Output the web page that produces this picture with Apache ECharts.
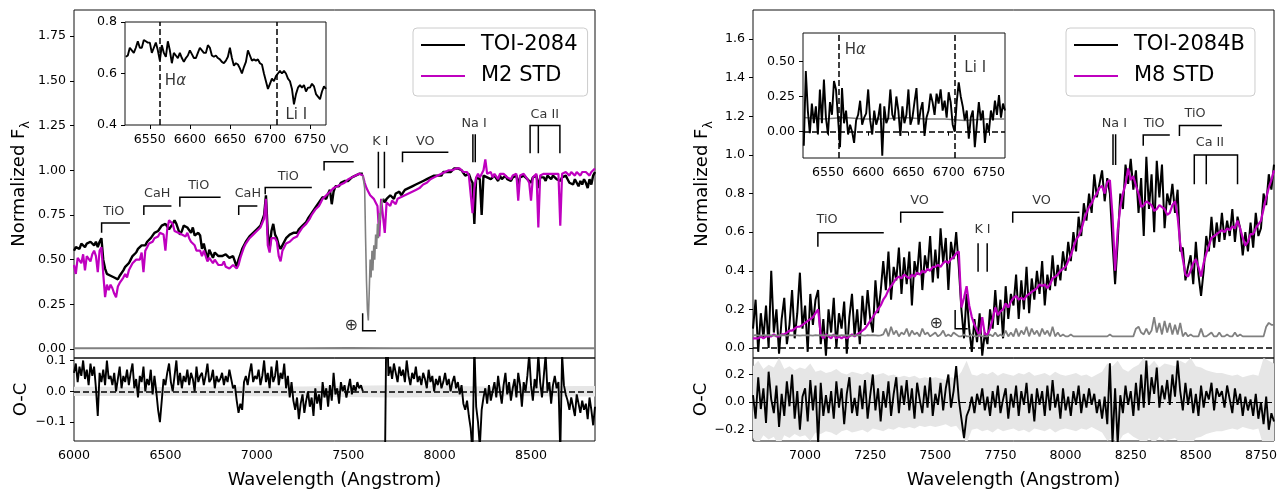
<!DOCTYPE html>
<html><head><meta charset="utf-8">
<script src="https://cdn.jsdelivr.net/npm/echarts@6/dist/echarts.min.js"></script>
<style>html,body{margin:0;padding:0;background:#fff}#c{width:1283px;height:490px}</style>
</head><body><div id="c"></div>
<script>
// ---------------- LEFT PANEL DATA (TOI-2084 vs M2 STD) ----------------
const leftWaveStart = 6000, leftWaveStep = 10;
const leftObs = [
0.55,0.57,0.58,0.56,0.59,0.58,0.57,0.59,0.58,0.60,
0.59,0.58,0.60,0.57,0.60,0.62,0.50,0.45,0.42,0.41,
0.41,0.42,0.40,0.41,0.39,0.41,0.42,0.44,0.46,0.45,
0.48,0.50,0.52,0.51,0.54,0.56,0.55,0.58,0.59,0.58,
0.60,0.61,0.62,0.63,0.65,0.64,0.66,0.67,0.69,0.68,
0.70,0.71,0.67,0.68,0.70,0.72,0.70,0.71,0.64,0.66,
0.69,0.68,0.68,0.665,0.65,0.68,0.635,0.645,0.65,0.635,
0.56,0.59,0.60,0.50,0.555,0.545,0.51,0.54,0.53,0.52,
0.53,0.52,0.51,0.53,0.52,0.51,0.50,0.52,0.49,0.46,
0.50,0.53,0.56,0.58,0.60,0.61,0.63,0.64,0.65,0.66,
0.67,0.68,0.69,0.70,0.75,0.86,0.65,0.56,0.66,0.70,
0.64,0.62,0.58,0.56,0.58,0.60,0.62,0.61,0.64,0.63,
0.65,0.66,0.65,0.67,0.68,0.69,0.70,0.71,0.73,0.74,
0.76,0.77,0.79,0.80,0.82,0.83,0.85,0.86,0.84,0.87,
0.89,0.81,0.88,0.91,0.92,0.91,0.93,0.92,0.94,0.93,
0.94,0.95,0.96,0.95,0.97,0.96,0.98,0.97,0.98,null,
null,null,null,null,null,null,null,null,null,0.84,
0.82,0.84,0.83,0.86,0.85,0.84,0.87,0.86,0.88,0.86,
0.87,0.89,0.88,0.90,0.89,0.91,0.90,0.92,0.91,0.93,
0.92,0.94,0.93,0.95,0.94,0.96,0.95,0.97,0.96,0.97,
0.98,0.97,0.99,0.98,0.99,1.00,0.99,1.00,1.01,1.00,
1.01,1.02,1.00,0.99,0.97,0.96,0.98,0.95,0.93,0.70,
0.96,0.97,0.95,0.75,0.97,0.98,0.96,0.97,0.95,0.96,
0.97,0.96,0.94,0.97,0.95,0.96,0.97,0.95,0.96,0.94,
0.96,0.95,0.97,0.92,0.96,0.95,0.97,0.96,0.95,0.94,
0.93,0.96,0.95,0.97,0.90,0.96,0.95,0.96,0.94,0.97,
0.96,0.95,0.97,0.96,0.95,0.96,0.94,0.96,0.95,0.97,
0.95,0.93,0.94,0.92,0.95,0.93,0.91,0.94,0.92,0.95,
0.93,0.90,0.95,0.92,0.97,0.99];
const leftStd = [
0.47,0.42,0.51,0.52,0.48,0.53,0.44,0.52,0.53,0.49,
0.53,0.55,0.52,0.43,0.55,0.57,0.42,0.29,0.36,0.33,
0.36,0.34,0.31,0.29,0.35,0.37,0.36,0.40,0.42,0.40,
0.44,0.46,0.48,0.47,0.50,0.51,0.50,0.54,0.43,0.55,
0.57,0.59,0.58,0.60,0.62,0.61,0.63,0.65,0.66,0.64,
0.55,0.67,0.72,0.72,0.70,0.66,0.67,0.65,0.66,0.64,
0.64,0.63,0.65,0.62,0.60,0.61,0.58,0.55,0.54,0.55,
0.52,0.55,0.54,0.49,0.51,0.50,0.48,0.50,0.49,0.47,
0.48,0.47,0.49,0.46,0.47,0.45,0.46,0.47,0.46,0.45,
0.47,0.51,0.54,0.57,0.59,0.60,0.62,0.63,0.64,0.64,
0.66,0.66,0.68,0.69,0.73,0.84,0.58,0.54,0.62,0.63,
0.62,0.60,0.52,0.49,0.55,0.57,0.59,0.58,0.60,0.60,
0.62,0.63,0.63,0.65,0.66,0.68,0.69,0.70,0.71,0.73,
0.75,0.76,0.78,0.79,0.80,0.82,0.84,0.85,0.86,0.86,
0.88,0.89,0.90,0.90,0.91,0.92,0.92,0.93,0.93,0.94,
0.95,0.95,0.96,0.96,0.97,0.97,0.98,0.98,0.97,0.93,
0.90,0.88,0.86,0.85,0.84,0.82,0.80,0.63,0.84,0.84,
0.65,0.82,0.81,0.80,0.83,0.82,0.81,0.84,0.83,0.85,
0.84,0.86,0.85,0.87,0.87,0.88,0.88,0.89,0.90,0.90,
0.91,0.92,0.93,0.93,0.94,0.95,0.95,0.96,0.96,0.97,
0.97,0.98,0.98,0.99,0.99,1.00,1.00,1.00,1.01,1.01,
1.01,1.01,1.00,0.99,0.98,0.99,0.97,0.98,0.76,0.90,
0.96,0.98,0.96,0.97,1.00,1.06,0.98,0.97,0.99,0.96,
0.98,0.97,0.95,0.98,0.97,0.98,0.99,0.96,0.97,0.95,
0.97,0.96,0.98,0.83,0.97,0.96,0.98,0.97,0.95,0.93,
0.83,0.96,0.97,0.98,0.68,0.97,0.96,0.98,0.97,0.98,
0.97,0.98,0.97,0.98,0.97,0.98,0.69,0.98,0.97,0.99,
0.98,0.97,0.99,0.98,0.97,0.99,0.98,0.97,0.99,0.98,
0.99,0.98,0.97,0.99,1.00,1.01];
const leftResid = [
0.06,0.09,0.03,0.08,0.05,0.10,0.04,0.07,0.02,0.09,
0.05,0.08,0.01,-0.08,0.06,0.03,0.07,0.02,0.10,0.04,
0.05,0.02,0.06,0.00,0.04,0.08,0.01,0.05,0.03,0.07,
0.02,0.06,0.09,0.01,0.04,-0.02,0.05,0.03,0.08,0.00,
0.04,0.02,0.07,-0.01,0.05,0.00,-0.06,-0.10,-0.03,0.04,
0.02,0.06,0.09,0.03,0.00,0.05,0.10,0.02,0.06,0.01,
0.05,0.03,0.07,0.02,0.06,0.04,0.00,0.08,0.03,0.05,
0.06,0.02,0.05,0.09,0.03,0.04,0.07,0.01,0.05,0.03,
0.04,0.06,0.02,0.05,0.03,0.07,0.04,0.01,0.02,-0.03,
-0.07,-0.04,-0.06,0.03,0.05,0.02,0.06,0.09,0.03,0.05,
0.04,0.07,0.02,0.05,0.10,0.03,0.06,0.01,0.08,0.03,
0.05,0.10,0.02,0.06,0.04,0.09,0.01,0.05,-0.02,0.03,
-0.03,-0.06,-0.02,-0.09,-0.04,-0.01,-0.07,-0.03,0.00,-0.05,
-0.02,-0.08,0.01,-0.04,-0.01,-0.06,0.03,-0.02,0.01,-0.05,
0.02,-0.03,0.06,-0.01,0.01,-0.04,0.03,0.00,0.02,-0.02,
0.01,0.04,-0.01,0.02,0.00,0.03,0.01,0.02,0.00,null,
null,null,null,null,null,null,null,null,null,null,
-0.30,0.30,0.05,0.08,0.04,0.09,0.06,0.03,0.08,0.05,
0.07,0.03,0.10,0.05,0.02,0.06,0.04,0.08,0.03,0.05,
0.02,0.06,0.04,0.01,0.07,0.03,0.05,0.00,0.04,0.02,
0.05,0.01,0.03,0.06,0.02,0.04,0.00,0.03,0.05,0.01,
0.03,-0.01,0.02,-0.04,-0.06,-0.03,-0.08,-0.12,-0.20,0.15,
-0.05,-0.10,-0.18,-0.06,-0.02,0.01,-0.04,0.02,-0.03,0.00,
0.03,-0.02,0.05,0.00,-0.04,0.02,0.06,-0.01,0.03,-0.03,
0.01,0.04,-0.02,0.06,0.02,-0.05,0.03,0.00,0.05,0.12,
0.02,-0.03,0.04,0.01,0.12,0.03,-0.02,0.05,0.12,0.00,
0.03,-0.04,0.02,0.05,0.01,0.03,-0.20,0.12,0.02,-0.01,
-0.03,-0.06,-0.02,-0.05,-0.08,-0.01,-0.04,-0.07,-0.03,-0.06,
-0.04,-0.09,-0.02,-0.06,-0.11,-0.05];
// telluric A-band portion of the observed spectrum (drawn in gray)
const leftTellStart = 7580, leftTellStep = 5;
const leftTell = [0.97,0.96,0.90,0.62,0.38,0.22,0.16,0.32,0.50,0.40,0.55,0.44,0.58,0.50,0.64,0.56,0.70,0.62,0.76,0.72,0.80,0.83,0.84];
// flux uncertainty (gray, near zero) and residual error band
const leftErrWave = [6000,6250,6500,6750,7000,7250,7500,7750,8000,8250,8500,8750,8850];
const leftErr     = [0.005,0.005,0.005,0.005,0.005,0.005,0.006,0.005,0.005,0.005,0.005,0.005,0.005];
const leftBand    = [0.015,0.015,0.014,0.015,0.016,0.016,0.018,0.020,0.018,0.016,0.016,0.017,0.017];
// inset (H-alpha / Li I region)
const leftInsetStart = 6520, leftInsetStep = 2.5;
const leftInset = [
0.665,0.67,0.70,0.69,0.68,0.70,0.725,0.70,0.70,0.73,
0.725,0.72,0.72,0.68,0.70,0.72,0.69,0.65,0.71,0.68,
0.665,0.725,0.69,0.64,0.68,0.67,0.66,0.68,0.66,0.645,
0.66,0.67,0.69,0.675,0.66,0.66,0.68,0.70,0.69,0.68,
0.68,0.71,0.70,0.67,0.665,0.67,0.66,0.655,0.645,0.64,
0.65,0.665,0.70,0.66,0.63,0.64,0.635,0.62,0.60,0.625,
0.645,0.69,0.67,0.65,0.655,0.65,0.655,0.64,0.635,0.60,
0.57,0.54,0.56,0.58,0.57,0.59,0.60,0.61,0.60,0.61,
0.60,0.58,0.57,0.54,0.48,0.52,0.545,0.555,0.545,0.555,
0.53,0.545,0.545,0.56,0.55,0.52,0.51,0.50,0.53,0.55,
0.54];

// ---------------- RIGHT PANEL DATA (TOI-2084B vs M8 STD) ----------------
const rightWaveStart = 6800, rightWaveStep = 10;
const rightObs = [
0.10,0.25,-0.02,0.18,0.05,0.22,0.00,0.40,0.08,0.20,
-0.03,0.15,0.26,0.02,0.12,0.30,0.05,0.18,0.39,0.10,
0.22,-0.02,0.28,0.12,0.25,0.30,0.02,0.15,-0.04,0.20,
0.08,0.26,0.00,0.18,0.10,0.24,-0.03,0.16,0.28,0.06,
0.20,0.02,0.27,0.12,0.30,0.15,0.08,0.35,0.18,0.29,
0.45,0.30,0.50,0.25,0.42,0.35,0.52,0.28,0.47,0.33,
0.50,0.22,0.45,0.38,0.55,0.30,0.48,0.40,0.58,0.34,
0.51,0.36,0.62,0.44,0.57,0.30,0.55,0.46,0.60,0.42,
0.20,0.05,0.28,0.10,-0.02,0.15,0.03,0.18,-0.04,0.08,
0.02,0.20,0.10,0.30,0.12,0.25,0.05,0.32,0.15,0.28,
0.22,0.38,0.15,0.35,0.20,0.42,0.18,0.36,0.25,0.40,
0.28,0.45,0.22,0.38,0.30,0.48,0.32,0.43,0.35,0.50,
0.40,0.55,0.45,0.60,0.50,0.68,0.58,0.75,0.66,0.80,
0.70,0.90,0.78,0.85,0.92,0.76,0.88,0.80,0.55,0.33,
0.55,0.80,0.72,0.95,0.85,0.98,0.82,0.92,0.70,0.88,
0.58,0.99,0.72,0.90,0.60,0.97,0.78,0.95,0.62,0.80,
0.74,0.85,0.70,0.82,0.50,0.52,0.35,0.42,0.48,0.33,
0.55,0.38,0.27,0.40,0.58,0.50,0.68,0.52,0.65,0.55,
0.70,0.56,0.66,0.58,0.72,0.55,0.68,0.62,0.48,0.60,
0.50,0.65,0.52,0.70,0.58,0.62,0.80,0.74,0.90,0.82,
0.95];
const rightStd = [
0.05,0.05,0.05,0.06,0.05,0.06,0.06,0.06,0.07,0.06,
0.06,0.07,0.07,0.08,0.09,0.09,0.10,0.11,0.11,0.12,
0.13,0.14,0.15,0.16,0.18,0.20,0.07,0.05,0.07,0.06,
0.05,0.07,0.05,0.06,0.05,0.06,0.05,0.06,0.07,0.06,
0.07,0.08,0.09,0.10,0.12,0.14,0.16,0.18,0.20,0.22,
0.25,0.27,0.30,0.32,0.34,0.36,0.37,0.36,0.38,0.37,
0.36,0.38,0.37,0.39,0.38,0.40,0.39,0.41,0.40,0.42,
0.42,0.43,0.42,0.44,0.45,0.44,0.46,0.47,0.49,0.50,
0.21,0.26,0.32,0.22,0.16,0.12,0.09,0.06,0.16,0.07,
0.07,0.10,0.15,0.21,0.17,0.19,0.20,0.23,0.21,0.24,
0.26,0.27,0.25,0.26,0.25,0.27,0.28,0.29,0.30,0.31,
0.33,0.32,0.33,0.31,0.33,0.36,0.37,0.38,0.40,0.41,
0.42,0.45,0.48,0.52,0.56,0.58,0.61,0.66,0.70,0.73,
0.75,0.78,0.80,0.83,0.84,0.80,0.86,0.87,0.69,0.40,
0.61,0.73,0.80,0.85,0.93,0.87,0.89,0.84,0.80,0.73,
0.74,0.76,0.75,0.74,0.71,0.72,0.74,0.73,0.72,0.69,
0.70,0.74,0.76,0.68,0.54,0.46,0.38,0.37,0.40,0.44,
0.46,0.42,0.37,0.44,0.49,0.53,0.57,0.58,0.59,0.60,
0.61,0.60,0.62,0.61,0.63,0.62,0.66,0.62,0.57,0.53,
0.55,0.59,0.59,0.62,0.64,0.66,0.72,0.78,0.83,0.87,
0.92];
const rightErr = [
0.065,0.066,0.065,0.064,0.066,0.065,0.066,0.065,0.064,0.065,
0.065,0.066,0.065,0.064,0.066,0.065,0.066,0.065,0.064,0.065,
0.065,0.066,0.065,0.064,0.066,0.065,0.066,0.065,0.064,0.065,
0.065,0.066,0.065,0.064,0.066,0.065,0.066,0.065,0.064,0.065,
0.065,0.066,0.065,0.064,0.066,0.065,0.066,0.065,0.064,0.065,
0.07,0.10,0.06,0.11,0.07,0.09,0.06,0.08,0.07,0.10,
0.06,0.09,0.07,0.08,0.06,0.10,0.07,0.08,0.06,0.07,
0.08,0.06,0.07,0.09,0.06,0.07,0.06,0.08,0.07,0.06,
0.06,0.07,0.06,0.06,0.07,0.06,0.06,0.07,0.06,0.06,
0.06,0.07,0.06,0.08,0.06,0.07,0.06,0.09,0.06,0.08,
0.06,0.10,0.06,0.09,0.07,0.11,0.06,0.10,0.07,0.09,
0.06,0.10,0.07,0.09,0.06,0.11,0.06,0.08,0.06,0.07,
0.06,0.06,0.07,0.06,0.06,0.06,0.06,0.06,0.06,0.06,
0.06,0.06,0.06,0.06,0.06,0.06,0.06,0.07,0.06,0.06,
0.06,0.06,0.06,0.06,0.06,0.06,0.06,0.10,0.11,0.08,
0.07,0.10,0.07,0.09,0.16,0.08,0.13,0.07,0.14,0.08,
0.13,0.07,0.12,0.07,0.13,0.06,0.08,0.06,0.07,0.06,
0.06,0.06,0.10,0.06,0.06,0.07,0.08,0.06,0.06,0.08,
0.06,0.06,0.07,0.06,0.06,0.08,0.06,0.07,0.06,0.06,
0.06,0.06,0.06,0.06,0.06,0.06,0.06,0.11,0.13,0.12,
0.12];
const rightResid = [
0.05,-0.12,0.18,-0.05,0.10,-0.15,0.22,0.02,-0.08,0.12,
-0.18,0.06,-0.10,0.15,-0.03,0.20,-0.12,0.08,-0.20,0.04,
0.10,-0.14,0.16,-0.06,0.12,-0.30,0.14,-0.10,0.05,-0.08,
0.08,-0.12,0.15,-0.04,0.10,-0.16,0.06,0.18,-0.08,0.03,
-0.10,0.12,-0.05,0.16,-0.12,0.05,0.20,-0.06,0.10,-0.14,
0.08,-0.04,0.15,-0.10,0.06,0.18,-0.08,0.12,-0.02,0.16,
-0.06,0.10,-0.12,0.14,0.02,-0.08,0.12,-0.04,0.18,-0.10,
0.06,-0.02,0.14,-0.06,0.10,0.20,-0.04,0.08,0.26,0.02,
-0.12,-0.26,-0.10,-0.05,0.04,-0.08,0.06,-0.02,0.10,-0.06,
0.04,-0.10,0.08,-0.04,0.12,-0.08,0.02,0.10,-0.12,0.06,
-0.04,0.12,-0.10,0.08,-0.02,0.14,-0.08,0.06,-0.14,0.10,
-0.02,0.08,-0.10,0.12,-0.06,0.16,-0.04,0.06,-0.12,0.10,
-0.06,0.04,-0.10,0.08,-0.02,0.12,-0.08,0.06,-0.04,0.10,
-0.02,0.06,-0.08,0.02,-0.12,0.04,-0.16,0.28,-0.30,0.10,
-0.30,0.05,-0.08,0.12,-0.02,0.08,-0.10,0.14,-0.06,0.20,
-0.04,0.30,-0.02,0.18,0.06,0.25,-0.04,0.12,0.02,0.16,
-0.02,0.20,0.04,0.30,0.08,-0.06,0.14,-0.02,0.10,-0.08,
0.06,-0.10,0.12,-0.04,0.08,0.02,0.14,-0.06,0.10,0.04,
0.08,-0.04,0.12,0.02,-0.08,0.10,-0.02,0.06,-0.10,0.04,
-0.06,0.02,-0.10,0.06,-0.12,0.00,-0.16,0.04,-0.20,-0.08,
-0.14];
const rightBandStart = 6800, rightBandStep = 20;
const rightBand = [
0.26,0.30,0.24,0.27,0.25,0.32,0.24,0.26,0.23,0.25,
0.24,0.28,0.22,0.23,0.21,0.22,0.24,0.21,0.20,0.22,
0.21,0.20,0.22,0.19,0.20,0.21,0.19,0.20,0.18,0.19,
0.18,0.19,0.17,0.18,0.17,0.18,0.17,0.16,0.18,0.17,
0.22,0.30,0.20,0.19,0.21,0.20,0.22,0.19,0.21,0.20,
0.19,0.21,0.20,0.22,0.19,0.20,0.21,0.19,0.22,0.20,
0.19,0.20,0.21,0.19,0.20,0.18,0.20,0.22,0.28,0.26,
0.30,0.24,0.22,0.25,0.27,0.32,0.26,0.30,0.25,0.28,
0.27,0.26,0.30,0.28,0.32,0.26,0.25,0.23,0.22,0.21,
0.21,0.20,0.19,0.20,0.18,0.19,0.20,0.19,0.32,0.30,
0.28];
const rightInsetStart = 6520, rightInsetStep = 2.5;
const rightInset = [
-0.10,0.43,0.15,-0.01,0.20,0.06,0.18,-0.02,0.30,0.06,
0.37,0.10,-0.02,0.21,0.12,0.36,0.30,0.10,-0.11,0.31,
0.06,0.15,-0.02,0.05,0.00,-0.08,0.08,0.12,0.22,0.05,
0.10,0.13,0.30,0.08,-0.02,0.15,0.05,0.10,0.20,-0.17,
0.18,0.06,0.10,0.30,0.12,0.08,0.25,0.15,-0.03,0.18,
0.06,0.12,0.30,0.05,0.10,0.21,0.31,0.05,0.15,0.21,
-0.03,0.10,0.15,0.27,0.21,0.12,0.27,0.20,0.30,0.15,
0.22,0.10,0.28,0.21,0.05,0.00,0.21,0.35,0.25,0.18,
0.08,0.15,-0.05,0.10,0.15,-0.11,0.05,0.21,0.08,0.15,
-0.08,0.06,0.00,0.15,0.08,0.22,0.12,0.26,0.10,0.20,
0.15];
const rightInsetErrWave = [6520,6545,6570,6595,6620,6645,6670,6695,6720,6745,6770];
const rightInsetErr     = [0.10,0.09,0.10,0.09,0.09,0.10,0.09,0.09,0.08,0.09,0.09];

// ---------------- ANNOTATIONS ----------------
const lineMarkers = [6563, 6708]; // H-alpha, Li I
const leftBrackets = [
 [[6151,0.65],[6151,0.705],[6306,0.705]],
 [[6382,0.75],[6382,0.80],[6533,0.80]],
 [[6579,0.796],[6579,0.849],[6802,0.849]],
 [[6901,0.75],[6901,0.80],[7003,0.80]],
 [[7046,0.866],[7046,0.903],[7301,0.903]],
 [[7368,0.998],[7368,1.048],[7530,1.048]],
 [[7665,0.899],[7665,1.104]],[[7698,0.899],[7698,1.104]],
 [[7797,1.045],[7797,1.10],[8048,1.10]],
 [[8182,1.045],[8182,1.201]],[[8195,1.045],[8195,1.201]],
 [[8495,1.095],[8495,1.25],[8658,1.25],[8658,1.095]],[[8540,1.095],[8540,1.25]],
 [[7579,0.20],[7579,0.102],[7652,0.102]]
];
const leftLabels = [
 ['TiO',6218,0.767],['CaH',6455,0.867],['TiO',6682,0.914],['CaH',6951,0.867],['TiO',7172,0.964],
 ['VO',7452,1.114],['K I',7676,1.160],['VO',7922,1.160],['Na I',8189,1.263],['Ca II',8575,1.313]
];
const leftEarth = [['⊕',7516,0.129]];
const rightBrackets = [
 [[7049,0.525],[7049,0.597],[7302,0.597]],
 [[7367,0.649],[7367,0.703],[7531,0.703]],
 [[7664,0.395],[7664,0.542]],[[7699,0.395],[7699,0.542]],
 [[7576,0.197],[7576,0.10],[7624,0.10]],
 [[7797,0.649],[7797,0.703],[8053,0.703]],
 [[8182,0.948],[8182,1.107]],[[8192,0.948],[8192,1.107]],
 [[8298,1.048],[8298,1.104],[8400,1.104]],
 [[8437,1.098],[8437,1.152],[8600,1.152]],
 [[8494,0.848],[8494,1.0],[8660,1.0],[8660,0.848]],[[8540,0.848],[8540,1.0]]
];
const rightLabels = [
 ['TiO',7084,0.663],['VO',7439,0.763],['K I',7681,0.611],['VO',7908,0.763],
 ['Na I',8187,1.164],['TiO',8340,1.164],['TiO',8497,1.212],['Ca II',8554,1.064]
];
const rightEarth = [['⊕',7503,0.124]];
const leftInsetLabels = [['Hα',6582,0.569],['Li I',6733,0.439]];
const rightInsetLabels = [['Hα',6584,0.58],['Li I',6733,0.45]];

// tick values
const leftMainTicks = [0,0.25,0.5,0.75,1.0,1.25,1.5,1.75];
const leftResTicks = [-0.1,0,0.1];
const leftXTicks = [6000,6500,7000,7500,8000,8500];
const rightMainTicks = [0,0.2,0.4,0.6,0.8,1.0,1.2,1.4,1.6];
const rightResTicks = [-0.2,0,0.2];
const rightXTicks = [7000,7250,7500,7750,8000,8250,8500,8750];
const insetXTicks = [6550,6600,6650,6700,6750];
const leftInsetYTicks = [0.4,0.6,0.8];
const rightInsetYTicks = [0,0.25,0.5];

// ---------------- BUILD ----------------
const FONT = 'DejaVu Sans';
const BLACK = '#000000', MAG = '#bf00bf', GRAY = '#808080', BANDC = '#e6e6e6';
function seq(start, step, arr){ return arr.map((v,i)=>[start+i*step, v==null?'-':v]); }
function zip(xs, ys){ return xs.map((x,i)=>[x, ys[i]]); }
function fmt(d){ return v => (v<0?'\u2212':'') + Math.abs(v).toFixed(d); }

function gridBox(l,t,w,h,bg){ return {left:l, top:t, width:w, height:h, show:true, borderColor:'#111', borderWidth:1, backgroundColor:bg||'transparent', containLabel:false}; }

function axis(o){
  const has = !!o.ticks;
  const a = {
    type:'value', gridIndex:o.grid, min:o.min, max:o.max, scale:true,
    axisLine:{show:false}, splitLine:{show:false},
    axisTick:{show:has, customValues:o.ticks, length:4, lineStyle:{color:'#000', width:1}},
    axisLabel:{show:has, customValues:o.ticks, formatter:o.fmt, color:'#000', fontSize:12.6, fontFamily:FONT, margin:o.margin||8}
  };
  if (o.name){
    a.name = o.name; a.nameLocation = 'middle'; a.nameGap = o.nameGap;
    a.nameTextStyle = {fontSize:18, fontFamily:FONT, color:'#000', rich:o.rich};
  }
  return a;
}

const subRich = {m:{fontSize:18, fontFamily:FONT, color:'#000', verticalAlign:'middle'},
                 s:{fontSize:12.5, fontFamily:FONT, color:'#000', verticalAlign:'bottom', padding:[13,0,0,0]}};

const grids = [
  gridBox(74,10,521,348),   // 0 left main
  gridBox(74,358,521,87),   // 1 left resid
  gridBox(125,22,201,103,'#fff'), // 2 left inset
  gridBox(753,10,521,348),  // 3 right main
  gridBox(753,358,521,87),  // 4 right resid
  gridBox(803,33,202,125,'#fff')  // 5 right inset
];
const xAxes = [
  axis({grid:0, min:6000, max:8850}),
  axis({grid:1, min:6000, max:8850, ticks:leftXTicks, fmt:v=>String(v), name:'Wavelength (Angstrom)', nameGap:30}),
  axis({grid:2, min:6519, max:6770, ticks:insetXTicks, fmt:v=>String(v)}),
  axis({grid:3, min:6800, max:8800}),
  axis({grid:4, min:6800, max:8800, ticks:rightXTicks, fmt:v=>String(v), name:'Wavelength (Angstrom)', nameGap:30}),
  axis({grid:5, min:6519, max:6770, ticks:insetXTicks, fmt:v=>String(v)})
];
const yAxes = [
  axis({grid:0, min:-0.05, max:1.896, ticks:leftMainTicks, fmt:fmt(2), name:'{m|Normalized F}{s|λ}', nameGap:42, rich:subRich}),
  axis({grid:1, min:-0.161, max:0.108, ticks:leftResTicks, fmt:fmt(1), name:'O-C', nameGap:44}),
  axis({grid:2, min:0.4, max:0.8, ticks:leftInsetYTicks, fmt:fmt(1)}),
  axis({grid:3, min:-0.052, max:1.751, ticks:rightMainTicks, fmt:fmt(1), name:'{m|Normalized F}{s|λ}', nameGap:38, rich:subRich}),
  axis({grid:4, min:-0.281, max:0.319, ticks:rightResTicks, fmt:fmt(1), name:'O-C', nameGap:40}),
  axis({grid:5, min:-0.187, max:0.701, ticks:rightInsetYTicks, fmt:fmt(2)})
];

function lineS(name, xi, data, color, width, z, extra){
  return Object.assign({type:'line', name:name, xAxisIndex:xi, yAxisIndex:xi, data:data, symbol:'none', showSymbol:false,
    connectNulls:false, clip:true, silent:true, z:z, color:color,
    itemStyle:{color:color}, lineStyle:{color:color, width:width, join:'bevel'}}, extra||{});
}
function dashed(axisKey, vals, width){
  return {silent:true, symbol:['none','none'], label:{show:false}, animation:false,
    lineStyle:{color:'#000', type:[6,3], width:width||1.5},
    data: vals.map(v=>({[axisKey]:v}))};
}
function bandS(xi, waves, errs){
  return {type:'custom', xAxisIndex:xi, yAxisIndex:xi, clip:true, silent:true, z:1,
    data:[[waves[Math.floor(waves.length/2)],0]],
    renderItem:function(params, api){
      const pts = [];
      for (let i=0;i<waves.length;i++) pts.push(api.coord([waves[i], errs[i]]));
      for (let i=waves.length-1;i>=0;i--) pts.push(api.coord([waves[i], -errs[i]]));
      return {type:'polygon', shape:{points:pts}, style:{fill:BANDC}};
    }};
}
function bracketS(xi, brackets){
  return {type:'lines', coordinateSystem:'cartesian2d', xAxisIndex:xi, yAxisIndex:xi, polyline:true, silent:true, z:5,
    data:brackets.map(c=>({coords:c})), lineStyle:{color:'#000', width:1.5, opacity:1}};
}
function labelS(xi, labels, fs){
  return {type:'scatter', xAxisIndex:xi, yAxisIndex:xi, symbolSize:0, silent:true, z:6,
    data:labels.map(l=>({name:l[0], value:[l[1], l[2]]})),
    label:{show:true, position:'inside', color:'#000', fontSize:fs, fontFamily:FONT,
      formatter:p => p.name==='Hα' ? '{n|H}{i|α}' : p.name,
      rich:{n:{fontSize:fs, fontFamily:FONT, color:'#000'}, i:{fontSize:fs, fontFamily:FONT, fontStyle:'italic', color:'#000'}}}};
}
const bandWavesR = rightBand.map((v,i)=>rightBandStart+i*rightBandStep);

const series = [
  // left main
  lineS('TOI-2084', 0, seq(leftWaveStart, leftWaveStep, leftObs), BLACK, 2.4, 2),
  lineS('M2 STD', 0, seq(leftWaveStart, leftWaveStep, leftStd), MAG, 2.2, 3),
  lineS('telluric L', 0, seq(leftTellStart, leftTellStep, leftTell), GRAY, 1.6, 4),
  lineS('err L', 0, zip(leftErrWave, leftErr), GRAY, 2, 2),
  bracketS(0, leftBrackets),
  labelS(0, leftLabels, 12.8),
  labelS(0, leftEarth, 16),
  // left resid
  bandS(1, leftErrWave, leftBand),
  lineS('resid L', 1, seq(leftWaveStart, leftWaveStep, leftResid), BLACK, 1.9, 3, {markLine:dashed('yAxis',[0],1.5)}),
  // left inset
  lineS('inset L', 2, seq(leftInsetStart, leftInsetStep, leftInset), BLACK, 1.9, 3, {markLine:dashed('xAxis',lineMarkers,1.5)}),
  labelS(2, leftInsetLabels, 15),
  // right main
  lineS('TOI-2084B', 3, seq(rightWaveStart, rightWaveStep, rightObs), BLACK, 2, 2, {markLine:dashed('yAxis',[0],1.5)}),
  lineS('M8 STD', 3, seq(rightWaveStart, rightWaveStep, rightStd), MAG, 2.2, 3),
  lineS('err R', 3, seq(rightWaveStart, rightWaveStep, rightErr), GRAY, 1.8, 4),
  bracketS(3, rightBrackets),
  labelS(3, rightLabels, 12.8),
  labelS(3, rightEarth, 16),
  // right resid
  bandS(4, bandWavesR, rightBand),
  lineS('resid R', 4, seq(rightWaveStart, rightWaveStep, rightResid), BLACK, 1.9, 3, {markLine:dashed('yAxis',[0],1.2)}),
  // right inset
  lineS('inset err R', 5, zip(rightInsetErrWave, rightInsetErr), GRAY, 1.5, 2),
  lineS('inset R', 5, seq(rightInsetStart, rightInsetStep, rightInset), BLACK, 1.9, 3,
        {markLine:{silent:true, symbol:['none','none'], label:{show:false}, animation:false,
          lineStyle:{color:'#000', type:[6,3], width:1.5},
          data:lineMarkers.map(v=>({xAxis:v})).concat([{yAxis:0}])}}),
  labelS(5, rightInsetLabels, 15)
];

function legendBox(names, left){
  return {data:names, orient:'vertical', left:left, top:28, icon:'rect', itemWidth:44, itemHeight:2, itemGap:7,
    padding:[5,10,8,8], selectedMode:false,
    textStyle:{fontSize:21, fontFamily:FONT, color:'#000', lineHeight:24, padding:[0,0,0,11]},
    borderColor:'#cccccc', borderWidth:1, borderRadius:4, backgroundColor:'rgba(255,255,255,0.8)'};
}

const chart = echarts.init(document.getElementById('c'), null, {renderer:'canvas'});
chart.setOption({
  animation:false,
  backgroundColor:'#ffffff',
  textStyle:{fontFamily:FONT},
  grid:grids, xAxis:xAxes, yAxis:yAxes,
  legend:[legendBox(['TOI-2084','M2 STD'], 413), legendBox(['TOI-2084B','M8 STD'], 1066)],
  series:series
});
</script></body></html>
